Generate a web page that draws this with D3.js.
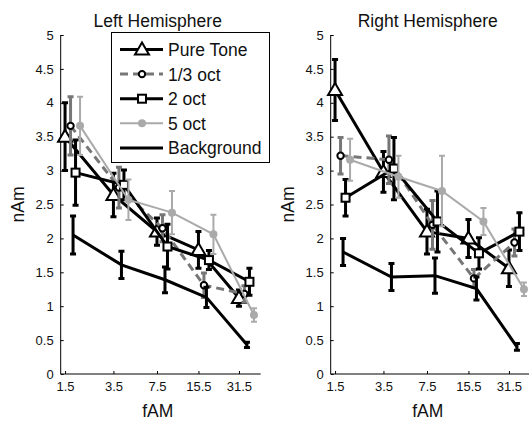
<!DOCTYPE html>
<html>
<head>
<meta charset="utf-8">
<script src="https://d3js.org/d3.v7.min.js"></script>
<title>fAM</title>
<style>
body { margin: 0; background: #fff; }
text { font-family: "Liberation Sans", Arial, sans-serif; }
</style>
</head>
<body>
<script>

// modulation frequencies (tick labels)
var fam = [1.5, 3.5, 7.5, 15.5, 31.5];
var yTicks = [0, 0.5, 1, 1.5, 2, 2.5, 3, 3.5, 4, 4.5, 5];
var seriesNames = ["Pure Tone", "1/3 oct", "2 oct", "5 oct", "Background"];

// Left hemisphere: means and error
var leftPure   = [3.50, 2.64, 2.10, 1.83, 1.12];
var leftPureE  = [0.50, 0.32, 0.20, 0.27, 0.12];
var leftThird  = [3.66, 2.75, 2.15, 1.31, 1.18];
var leftThirdE = [0.43, 0.30, 0.20, 0.18, 0.12];
var leftTwo    = [2.97, 2.79, 1.88, 1.68, 1.36];
var leftTwoE   = [0.48, 0.22, 0.33, 0.14, 0.20];
var leftFive   = [3.66, 2.57, 2.38, 2.06, 0.87];
var leftFiveE  = [0.43, 0.30, 0.32, 0.29, 0.10];
var leftBg     = [2.05, 1.61, 1.39, 1.13, 0.43];
var leftBgE    = [0.28, 0.20, 0.19, 0.15, 0.04];

// Right hemisphere
var rightPure   = [4.19, 2.98, 2.10, 2.00, 1.56];
var rightPureE  = [0.45, 0.30, 0.33, 0.28, 0.27];
var rightThird  = [3.22, 3.16, 2.20, 1.41, 1.94];
var rightThirdE = [0.27, 0.35, 0.36, 0.13, 0.20];
var rightTwo    = [2.60, 3.03, 2.25, 1.78, 2.10];
var rightTwoE   = [0.27, 0.46, 0.45, 0.23, 0.28];
var rightFive   = [3.16, 2.91, 2.70, 2.25, 1.25];
var rightFiveE  = [0.31, 0.31, 0.52, 0.20, 0.10];
var rightBg     = [1.80, 1.43, 1.45, 1.26, 0.40];
var rightBgE    = [0.20, 0.20, 0.26, 0.17, 0.05];

// look of each series (pixel jitter along x, like the original)
var styles = [
  { color: "#000", width: 3, dash: null, marker: "triangle", shift: 0 },
  { color: "#777", width: 3, dash: "8,5", marker: "circle", shift: 5.5 },
  { color: "#000", width: 3, dash: null, marker: "square", shift: 10.5 },
  { color: "#aaa", width: 2, dash: null, marker: "dot", shift: 15 },
  { color: "#000", width: 3, dash: null, marker: null, shift: 8 }
];

var panels = [
  { title: "Left Hemisphere", left: 60.7,
    means: [leftPure, leftThird, leftTwo, leftFive, leftBg],
    errs: [leftPureE, leftThirdE, leftTwoE, leftFiveE, leftBgE] },
  { title: "Right Hemisphere", left: 330.7,
    means: [rightPure, rightThird, rightTwo, rightFive, rightBg],
    errs: [rightPureE, rightThirdE, rightTwoE, rightFiveE, rightBgE] }
];

var width = 529, height = 421;
var plotW = 200, plotTop = 35, plotBottom = 374;

var svg = d3.select("body").append("svg")
  .attr("width", width)
  .attr("height", height);

svg.append("rect").attr("width", width).attr("height", height).attr("fill", "#fff");

var y = d3.scaleLinear().domain([0, 5]).range([plotBottom, plotTop]);

function drawMarker(g, type, cx, cy, color) {
  if (type == "triangle") {
    g.append("path")
      .attr("d", "M" + cx + "," + (cy - 7) + "L" + (cx + 7) + "," + (cy + 5) + "L" + (cx - 7) + "," + (cy + 5) + "Z")
      .attr("fill", "#fff").attr("stroke", "#000").attr("stroke-width", 2);
  } else if (type == "circle") {
    g.append("circle").attr("cx", cx).attr("cy", cy).attr("r", 3.2)
      .attr("fill", "#fff").attr("stroke", "#000").attr("stroke-width", 2);
  } else if (type == "square") {
    g.append("rect").attr("x", cx - 4).attr("y", cy - 4).attr("width", 8).attr("height", 8)
      .attr("fill", "#fff").attr("stroke", "#000").attr("stroke-width", 2);
  } else if (type == "dot") {
    g.append("circle").attr("cx", cx).attr("cy", cy).attr("r", 4)
      .attr("fill", color).attr("stroke", "none");
  }
}

panels.forEach(function(p) {
  var x = d3.scaleLog().base(2).domain([1.39, 46.1]).range([p.left, p.left + plotW]);
  var g = svg.append("g");

  // axes, MATLAB style: ticks pointing inward
  var xAxis = d3.axisBottom(x).tickValues(fam).tickSize(-3).tickPadding(8)
    .tickFormat(function(d) { return d; });
  var gx = g.append("g").attr("transform", "translate(0," + plotBottom + ")").call(xAxis);
  gx.select(".domain").attr("d", "M" + p.left + ",0H" + (p.left + plotW)).attr("stroke", "#000");

  var yAxis = d3.axisLeft(y).tickValues(yTicks).tickSize(-3).tickPadding(7)
    .tickFormat(function(d) { return d; });
  var gy = g.append("g").attr("transform", "translate(" + p.left + ",0)").call(yAxis);
  gy.select(".domain").attr("d", "M0," + plotTop + "V" + plotBottom).attr("stroke", "#000");

  g.selectAll(".tick text").attr("font-size", 13).attr("fill", "#111")
    .attr("font-family", "Liberation Sans, Arial, sans-serif");
  g.selectAll(".tick line").attr("stroke", "#000");

  g.append("text").attr("x", p.left + plotW / 2 - 3).attr("y", 27)
    .attr("text-anchor", "middle").attr("font-size", 17.5).attr("fill", "#111")
    .text(p.title);
  g.append("text").attr("x", p.left + plotW / 2 - 3).attr("y", 417)
    .attr("text-anchor", "middle").attr("font-size", 17.5).attr("fill", "#111")
    .text("fAM");
  g.append("text")
    .attr("transform", "translate(" + (p.left - 37) + "," + ((plotTop + plotBottom) / 2) + ") rotate(-90)")
    .attr("text-anchor", "middle").attr("font-size", 17.5).attr("fill", "#111")
    .text("nAm");

  // series
  p.means.forEach(function(vals, i) {
    var s = styles[i];
    var sg = g.append("g");
    var px = function(k) { return x(fam[k]) + s.shift; };

    // error bars
    vals.forEach(function(v, k) {
      var e = p.errs[i][k];
      var cx = px(k);
      sg.append("path")
        .attr("d", "M" + cx + "," + y(v + e) + "V" + y(v - e) +
                   "M" + (cx - 3) + "," + y(v + e) + "H" + (cx + 3) +
                   "M" + (cx - 3) + "," + y(v - e) + "H" + (cx + 3))
        .attr("stroke", s.color).attr("stroke-width", s.width).attr("fill", "none");
    });

    var line = d3.line().x(function(d, k) { return px(k); }).y(function(d) { return y(d); });
    sg.append("path").datum(vals).attr("d", line)
      .attr("fill", "none").attr("stroke", s.color).attr("stroke-width", s.width)
      .attr("stroke-dasharray", s.dash);

    vals.forEach(function(v, k) {
      drawMarker(sg, s.marker, px(k), y(v), s.color);
    });
  });
});

// legend
var lg = svg.append("g");
lg.append("rect").attr("x", 111.5).attr("y", 32.5).attr("width", 158).attr("height", 130)
  .attr("fill", "#fff").attr("stroke", "#000").attr("stroke-width", 1);
seriesNames.forEach(function(name, i) {
  var s = styles[i];
  var ly = 49.5 + i * 24.6;
  lg.append("line").attr("x1", 120).attr("x2", 163).attr("y1", ly).attr("y2", ly)
    .attr("stroke", s.color).attr("stroke-width", s.width).attr("stroke-dasharray", s.dash);
  drawMarker(lg, s.marker, 142, ly, s.color);
  lg.append("text").attr("x", 168).attr("y", ly + 6.5).attr("font-size", 17.5).attr("fill", "#111")
    .text(name);
});

</script>
</body>
</html>
